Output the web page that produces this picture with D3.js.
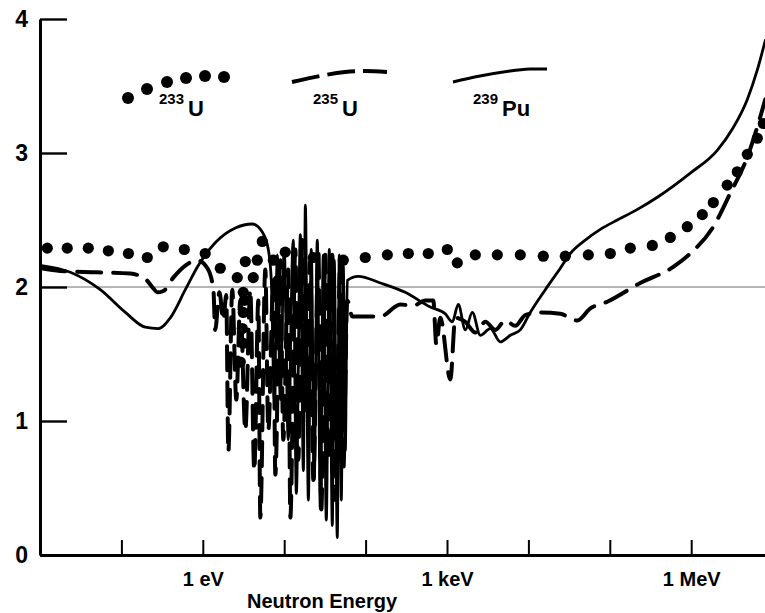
<!DOCTYPE html>
<html>
<head>
<meta charset="utf-8">
<script src="https://cdn.jsdelivr.net/npm/d3@7/dist/d3.min.js"></script>
<style>
  html, body { margin: 0; padding: 0; background: #fff; }
  svg { display: block; }
  text { font-family: "Liberation Sans", Arial, Helvetica, sans-serif; font-weight: bold; fill: #000; }
</style>
</head>
<body>
<svg id="chart" width="765" height="613"></svg>
<script>
// Neutrons released per neutron absorbed (eta) against incident neutron energy (eV)

// 239Pu, solid curve
const puEnergy = [0.0104, 0.0236, 0.0551, 0.112, 0.197, 0.284, 0.399, 0.61, 0.88, 1.42, 2.51, 4.06, 5.38, 6.38,
  6.94, 7.56, 8.23, 8.96, 10.0, 11.2, 12.9, 14.1, 15.8, 17.2, 18.2, 19.8, 21.5, 23.4, 25.5, 27.8, 30.2, 32.9,
  35.8, 39.0, 41.2, 44.9, 47.5, 50.3, 53.2, 56.3, 59.6, 81.3, 152, 307, 623, 953, 1162, 1376, 1679, 2046, 2566,
  3404, 4519, 5992, 7947, 10540, 16140, 24660, 32720, 50000, 76420, 123600, 205600, 383700, 975000, 2.09e6,
  3.29e6, 4.89e6, 6.49e6, 8.13e6];
const puEta = [2.16, 2.11, 1.98, 1.81, 1.70, 1.69, 1.77, 1.98, 2.16, 2.33, 2.44, 2.47, 2.41, 2.28,
  2.05, 1.16, 2.24, 1.16, 2.28, 0.86, 2.35, 0.46, 2.39, 0.63, 2.61, 0.41, 2.28, 0.56, 2.35, 0.34, 2.24, 0.26,
  2.28, 0.22, 2.20, 0.13, 2.24, 0.41, 2.16, 0.78, 2.05, 2.08, 2.03, 1.96, 1.85, 1.80, 1.74, 1.87, 1.68, 1.81, 1.64,
  1.69, 1.59, 1.64, 1.68, 1.81, 1.98, 2.14, 2.25, 2.35, 2.43, 2.50, 2.57, 2.67, 2.85, 3.02,
  3.19, 3.40, 3.62, 3.84];

// 235U, dashed curve
const u235Energy = [0.0104, 0.0177, 0.0506, 0.129, 0.197, 0.247, 0.276, 0.327, 0.434, 0.61, 0.856, 1.14, 1.35,
  1.42, 1.60, 1.79, 1.94, 2.06, 2.30, 2.58, 2.89, 3.33, 3.83, 4.29, 4.81, 5.09, 5.86, 6.38, 7.35, 7.78, 8.96,
  9.75, 11.2, 11.9, 13.7, 14.9, 16.7, 18.2, 20.9, 22.8, 26.3, 28.6, 32.0, 34.8, 39.0, 42.4, 48.9, 53.2, 59.6,
  68.7, 152, 267, 385, 541, 679, 739, 828, 1099, 1265, 1679, 2228, 2956, 3921, 5203, 6903, 9155, 14000, 24660,
  39890, 57680, 93290, 237000, 602800, 975000, 1.87e6, 3.02e6, 4.89e6, 7.06e6, 8.13e6];
const u235Eta = [2.14, 2.12, 2.11, 2.10, 2.06, 1.99, 1.96, 1.97, 2.07, 2.16, 2.20, 2.14, 1.98,
  1.68, 1.96, 1.75, 1.94, 0.77, 1.98, 1.16, 1.90, 0.93, 1.98, 0.63, 1.90, 0.28, 2.13, 0.93, 2.05, 0.60, 2.20,
  0.86, 2.13, 0.28, 2.28, 0.71, 2.35, 1.08, 2.20, 0.56, 2.28, 0.34, 2.24, 0.71, 2.24, 0.41, 2.20, 0.63, 1.90,
  1.78, 1.78, 1.87, 1.86, 1.90, 1.90, 1.57, 1.77, 1.31, 1.77, 1.74, 1.66, 1.74, 1.68, 1.75, 1.71, 1.79, 1.81, 1.80,
  1.75, 1.84, 1.89, 2.03, 2.15, 2.25, 2.45, 2.70, 2.97, 3.27, 3.40];

// 233U, dotted curve (one dot per value)
const u233Energy = [0.0123, 0.0216, 0.0392, 0.0691, 0.122, 0.208, 0.327, 0.593, 1.07, 1.64, 2.65, 3.33, 4.67,
  5.38, 4.17, 7.35, 8.47, 10.3, 3.14, 3.24, 3.14, 3.06, 3.14, 2.89, 22.8, 53.2, 99.1, 185, 335, 589, 1009, 1337,
  2228, 4149, 7947, 15240, 28400, 54450, 101500, 178600, 332800, 553700, 895700, 1.37e6, 1.87e6, 2.77e6,
  3.68e6, 4.89e6, 6.49e6, 7.69e6];
const u233Eta = [2.29, 2.29, 2.29, 2.27, 2.25, 2.22, 2.30, 2.28, 2.25, 2.14, 2.07, 2.19, 2.20,
  2.34, 2.07, 2.20, 2.05, 2.26, 1.96, 1.90, 1.81, 1.69, 1.58, 1.44, 2.22, 2.20, 2.22, 2.24, 2.25, 2.25, 2.28, 2.18,
  2.24, 2.24, 2.24, 2.23, 2.23, 2.24, 2.25, 2.29, 2.31, 2.37, 2.45, 2.54, 2.63, 2.76,
  2.86, 2.99, 3.11, 3.22];

// Axis ticks
const energyTicks = [0.1, 1, 10, 100, 1e3, 1e4, 1e5, 1e6];
const energyTickLabels = ["", "1 eV", "", "", "1 keV", "", "", "1 MeV"];
const etaTicks = [0, 1, 2, 3, 4];
const referenceEta = 2;

const svg = d3.select("#chart");

const x = d3.scaleLog().domain([0.01, 1e7]).range([40, 772.6]);
const y = d3.scaleLinear().domain([0, 4]).range([555, 19]);

const zip = (xs, ys) => xs.map((e, i) => [e, ys[i]]);
const puData = zip(puEnergy, puEta);
const u235Data = zip(u235Energy, u235Eta);
const u233Data = zip(u233Energy, u233Eta);

svg.append("defs").append("clipPath").attr("id", "plot-clip")
  .append("rect").attr("x", 40).attr("y", 0).attr("width", 725).attr("height", 555);

const plot = svg.append("g").attr("clip-path", "url(#plot-clip)");

// Thin grey reference line at eta = 2
plot.append("line")
  .attr("x1", 40).attr("x2", 765)
  .attr("y1", y(referenceEta)).attr("y2", y(referenceEta))
  .attr("stroke", "#9c9c9c").attr("stroke-width", 1.6);

const line = d3.line()
  .x(d => x(d[0]))
  .y(d => y(d[1]))
  .curve(d3.curveMonotoneX);

plot.append("path")
  .datum(puData)
  .attr("d", line)
  .attr("fill", "none")
  .attr("stroke", "#000")
  .attr("stroke-width", 2.8)
  .attr("stroke-linejoin", "round")
  .attr("stroke-linecap", "round");

plot.append("path")
  .datum(u235Data)
  .attr("d", line)
  .attr("fill", "none")
  .attr("stroke", "#000")
  .attr("stroke-width", 4)
  .attr("stroke-dasharray", "24 12")
  .attr("stroke-linejoin", "round")
  .attr("stroke-linecap", "round");

plot.selectAll("circle.u233")
  .data(u233Data)
  .join("circle")
  .attr("class", "u233")
  .attr("cx", d => x(d[0]))
  .attr("cy", d => y(d[1]))
  .attr("r", 5.6)
  .attr("fill", "#000");

// Energy axis with inward ticks
const xAxis = d3.axisBottom(x)
  .tickValues(energyTicks)
  .tickSize(-15)
  .tickSizeOuter(0)
  .tickPadding(17)
  .tickFormat((d, i) => energyTickLabels[i]);

const gx = svg.append("g").attr("transform", `translate(0,${y(0)})`).call(xAxis);
gx.select(".domain").attr("stroke", "#000").attr("stroke-width", 3);
gx.selectAll(".tick line").attr("stroke", "#000").attr("stroke-width", 2);
gx.selectAll(".tick text").style("font-size", "20px").style("font-family", null).attr("fill", "#000");

// Eta axis
const yAxis = d3.axisLeft(y)
  .tickValues(etaTicks)
  .tickSize(-27)
  .tickSizeOuter(0)
  .tickPadding(12)
  .tickFormat(d3.format("d"));

const gy = svg.append("g").attr("transform", `translate(40,0)`).call(yAxis);
gy.select(".domain").attr("stroke", "#000").attr("stroke-width", 3);
gy.selectAll(".tick line").attr("stroke", "#000").attr("stroke-width", 2.4);
gy.selectAll(".tick text").style("font-size", "23px").style("font-family", null).attr("fill", "#000");

svg.append("text")
  .attr("x", 322).attr("y", 608)
  .attr("text-anchor", "middle")
  .style("font-size", "20px")
  .text("Neutron Energy");

// Key
const key = svg.append("g");

const keyDots = [[128, 98], [147, 89], [167, 82], [186, 78], [205, 76], [224, 77]];
key.selectAll("circle")
  .data(keyDots)
  .join("circle")
  .attr("cx", d => d[0]).attr("cy", d => d[1]).attr("r", 6).attr("fill", "#000");

const keyLine = d3.line().curve(d3.curveNatural);
key.append("path")
  .attr("d", keyLine([[292, 82], [320, 76], [345, 72], [365, 71], [387, 72]]))
  .attr("fill", "none").attr("stroke", "#000").attr("stroke-width", 4)
  .attr("stroke-dasharray", "28 8");
key.append("path")
  .attr("d", keyLine([[453, 82], [480, 76], [510, 71], [530, 69], [547, 69]]))
  .attr("fill", "none").attr("stroke", "#000").attr("stroke-width", 3);

function nuclideLabel(xPos, mass, symbol) {
  const t = key.append("text").attr("x", xPos).attr("y", 116);
  t.append("tspan").attr("dy", -12).style("font-size", "15px").text(mass);
  t.append("tspan").attr("dy", 12).attr("dx", 4).style("font-size", "22px").text(symbol);
}
nuclideLabel(159, "233", "U");
nuclideLabel(313, "235", "U");
nuclideLabel(473, "239", "Pu");
</script>
</body>
</html>
